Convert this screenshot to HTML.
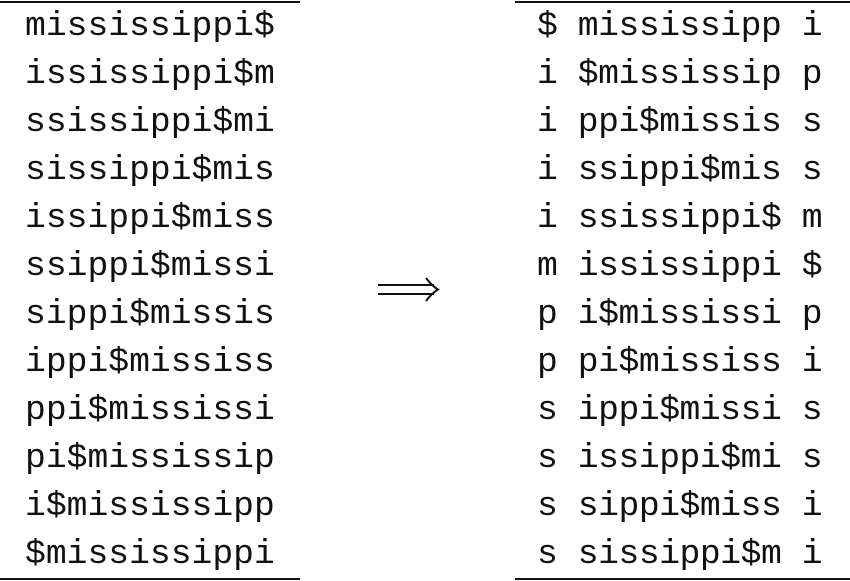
<!DOCTYPE html>
<html><head><meta charset="utf-8"><style>
body{margin:0;width:850px;height:581px;background:#fff;position:relative;overflow:hidden}
.t{position:absolute;font-family:"Liberation Mono",monospace;font-size:34.7px;line-height:48px;white-space:pre;color:#111}
.l{position:absolute;height:2px;background:#111}
</style></head><body>
<div class="l" style="left:0;top:1px;width:300px"></div>
<div class="l" style="left:0;top:578px;width:300px"></div>
<div class="l" style="left:515px;top:1px;width:335px"></div>
<div class="l" style="left:515px;top:578px;width:335px"></div>
<div class="t" style="left:25px;top:3px">mississippi$
ississippi$m
ssissippi$mi
sissippi$mis
issippi$miss
ssippi$missi
sippi$missis
ippi$mississ
ppi$mississi
pi$mississip
i$mississipp
$mississippi</div>
<div class="t" style="left:537px;top:3px;letter-spacing:-0.45px">$ mississipp i
i $mississip p
i ppi$missis s
i ssippi$mis s
i ssissippi$ m
m ississippi $
p i$mississi p
p pi$mississ i
s ippi$missi s
s issippi$mi s
s sippi$miss i
s sissippi$m i</div>
<svg style="position:absolute;left:370px;top:270px" width="80" height="40">
<line x1="8" y1="15" x2="64" y2="15" stroke="#111" stroke-width="2"/>
<line x1="8" y1="24" x2="64" y2="24" stroke="#111" stroke-width="2"/>
<path d="M56 8 Q62 16 68 19.5 Q62 23 56 31" fill="none" stroke="#111" stroke-width="2"/>
</svg>
</body></html>
